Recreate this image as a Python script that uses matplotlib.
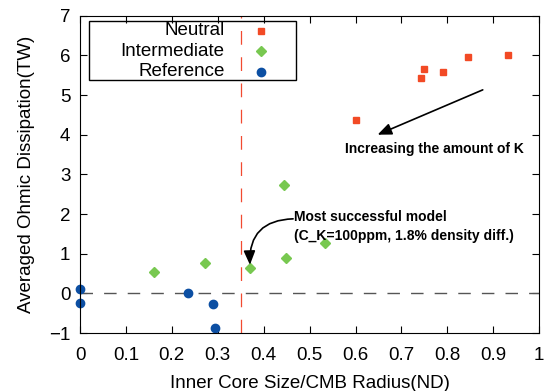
import matplotlib.pyplot as plt
from matplotlib.patches import Rectangle
from matplotlib.lines import Line2D

plt.rcParams['font.family'] = ['Liberation Sans', 'DejaVu Sans']

# data
neutral_x = [0.602, 0.743, 0.748, 0.791, 0.845, 0.933]
neutral_y = [4.37, 5.43, 5.66, 5.57, 5.95, 6.02]
inter_x = [0.162, 0.272, 0.370, 0.444, 0.449, 0.533]
inter_y = [0.54, 0.76, 0.65, 2.72, 0.90, 1.28]
ref_x = [0.0, 0.0, 0.235, 0.290, 0.295]
ref_y = [0.10, -0.24, 0.01, -0.27, -0.86]

labels = ["Neutral", "Intermediate", "Reference"]
colors = ["#f24a25", "#78c850", "#0c4fa3"]

fig = plt.figure(figsize=(5.48, 3.91), dpi=100)
ax = fig.add_axes([0.146, 0.148, 0.838, 0.812])

ax.axhline(0, color="#555555", lw=1.0, dashes=(9, 8))
ax.axvline(0.35, color="#f24a30", lw=0.9, dashes=(11, 10))

ax.plot(neutral_x, neutral_y, ls="none", marker="s", ms=5, color=colors[0], clip_on=False)
ax.plot(inter_x, inter_y, ls="none", marker="D", ms=5.5, color=colors[1], clip_on=False)
ax.plot(ref_x, ref_y, ls="none", marker="o", ms=6, color=colors[2], clip_on=False)

ax.set_xlim(0, 1)
ax.set_ylim(-1, 7)
ax.set_xticks([0, 0.1, 0.2, 0.3, 0.4, 0.5, 0.6, 0.7, 0.8, 0.9, 1])
ax.set_xticklabels(["0", "0.1", "0.2", "0.3", "0.4", "0.5", "0.6", "0.7", "0.8", "0.9", "1"])
ax.set_yticks(range(-1, 8))
ax.tick_params(direction="in", top=True, right=True, length=5, labelsize=13.5)
ax.tick_params(axis="x", pad=10)
ax.tick_params(axis="y", pad=7)
ax.set_xlabel("Inner Core Size/CMB Radius(ND)", fontsize=13.5, labelpad=8)
ax.set_ylabel("Averaged Ohmic Dissipation(TW)", fontsize=13.5, labelpad=10)

# legend box, gnuplot style (text right aligned, marker on the right)
ax.add_patch(Rectangle((0.02, 0.796), 0.45, 0.186, transform=ax.transAxes,
                       fill=False, lw=1.0, color="black", zorder=5))
ly = [0.953, 0.888, 0.823]
mk = ["s", "D", "o"]
ms = [5, 5.5, 6]
for i in range(3):
    ax.text(0.315, ly[i], labels[i], transform=ax.transAxes, ha="right",
            va="center", fontsize=13.5)
    ax.add_line(Line2D([0.395], [ly[i]], transform=ax.transAxes, marker=mk[i],
                       ms=ms[i], color=colors[i], ls="none"))

ax.annotate("", xy=(0.648, 4.0), xytext=(0.877, 5.13),
            arrowprops=dict(arrowstyle="-|>,head_length=0.6,head_width=0.25",
                            color="black", lw=1.2,
                            mutation_scale=14, shrinkA=0, shrinkB=0))
ax.text(0.576, 3.65, "Increasing the amount of K", fontsize=10,
        fontweight="bold", va="center")

ax.annotate("", xy=(0.370, 0.72), xytext=(0.464, 1.88),
            arrowprops=dict(arrowstyle="-|>,head_length=0.6,head_width=0.25",
                            color="black", lw=1.2,
                            mutation_scale=14, shrinkA=0, shrinkB=0,
                            connectionstyle="arc3,rad=0.5"))
ax.text(0.467, 1.92, "Most successful model", fontsize=10,
        fontweight="bold", va="center")
ax.text(0.467, 1.44, "(C_K=100ppm, 1.8% density diff.)", fontsize=10,
        fontweight="bold", va="center")

fig.savefig("out.png", dpi=100)
